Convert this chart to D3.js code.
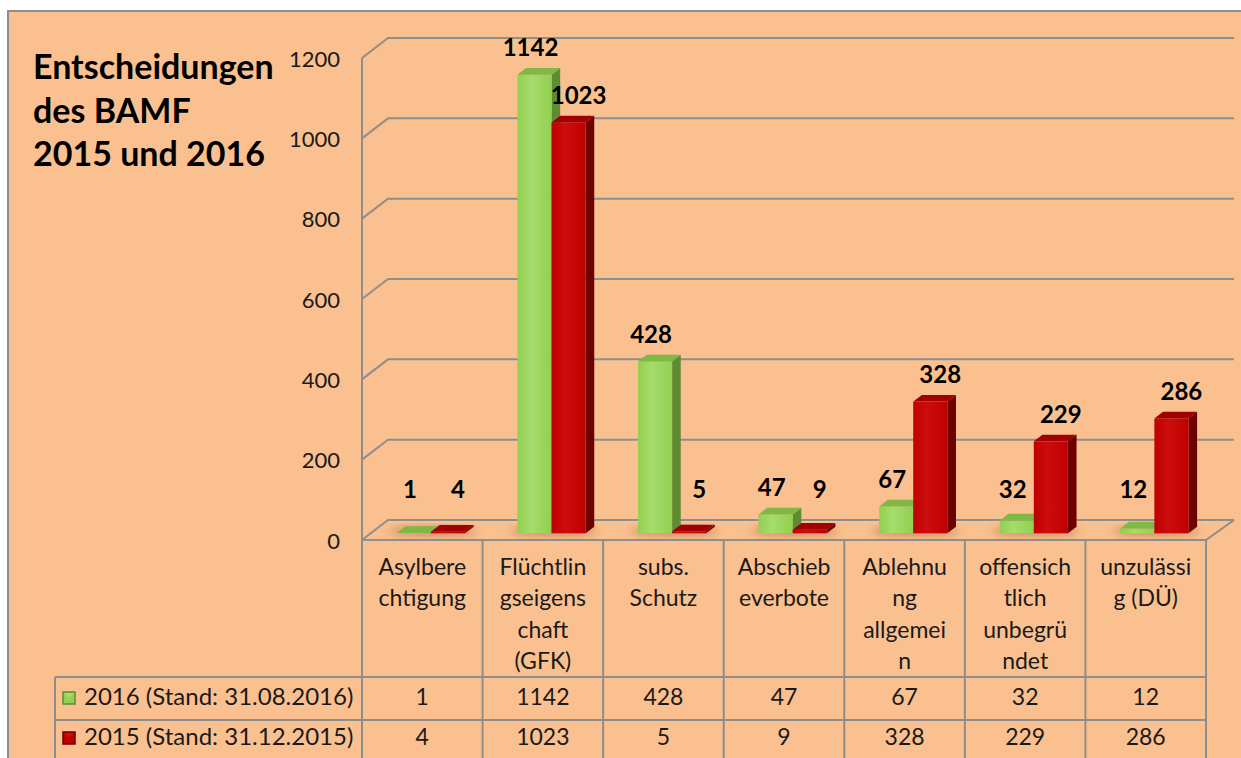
<!DOCTYPE html>
<html>
<head>
<meta charset="utf-8">
<script src="https://cdn.jsdelivr.net/npm/d3@7"></script>
<style>
  body { margin: 0; background: #fff; }
  text { font-family: Lato, "Noto Sans", sans-serif; }
</style>
</head>
<body>
<div id="chart"></div>
<script>
// Data
var categories = ["Asylberechtigung", "Flüchtlingseigenschaft (GFK)", "subs. Schutz", "Abschiebeverbote",
    "Ablehnung allgemein", "offensichtlich unbegründet", "unzulässig (DÜ)"];
var categoryLines = [["Asylbere", "chtigung"], ["Flüchtlin", "gseigens", "chaft", "(GFK)"], ["subs.", "Schutz"],
    ["Abschieb", "everbote"], ["Ablehnu", "ng", "allgemei", "n"], ["offensich", "tlich", "unbegrü", "ndet"],
    ["unzulässi", "g (DÜ)"]];
var values2016 = [1, 1142, 428, 47, 67, 32, 12];
var values2015 = [4, 1023, 5, 9, 328, 229, 286];
var seriesKeys = ["2016", "2015"];
var seriesLabels = ["2016 (Stand: 31.08.2016)", "2015 (Stand: 31.12.2015)"];
var yTicks = [0, 200, 400, 600, 800, 1000, 1200];
var titleLines = ["Entscheidungen", "des BAMF", "2015 und 2016"];

var W = 1241, H = 758;
var bg = "#fac090", gridCol = "#8e8e8e";
var colors = {
    "2016": {front: "#92d050", side: "#5f8c33", top: "#7fb844", light: "#a6dc6c"},
    "2015": {front: "#c00000", side: "#6e0000", top: "#a00000", light: "#cc0d0d"}
};

// plot geometry
var plotLeft = 362, plotRight = 1206, floorY = 540;
var depthX = 26, depthY = -20;   // full depth of the 3D box
var barF = 1 / 3, barB = 2 / 3;  // bar front/back as fraction of depth

var rows = categories.map(function (c, i) {
    return {cat: c, lines: categoryLines[i], "2016": values2016[i], "2015": values2015[i]};
});

var svg = d3.select("#chart").append("svg")
    .attr("width", W).attr("height", H);

var defs = svg.append("defs");
defs.append("filter").attr("id", "blur")
    .attr("x", "-50%").attr("y", "-50%").attr("width", "200%").attr("height", "200%")
    .append("feGaussianBlur").attr("stdDeviation", 4);
seriesKeys.forEach(function (k) {
    var g = defs.append("linearGradient").attr("id", "grad" + k)
        .attr("x1", 0).attr("x2", 1).attr("y1", 0).attr("y2", 0);
    g.append("stop").attr("offset", "0%").attr("stop-color", colors[k].front);
    g.append("stop").attr("offset", "40%").attr("stop-color", colors[k].light);
    g.append("stop").attr("offset", "100%").attr("stop-color", colors[k].front);
});

// chart area background
svg.append("rect")
    .attr("x", 8).attr("y", 11).attr("width", W + 20).attr("height", H + 20)
    .attr("fill", bg).attr("stroke", gridCol).attr("stroke-width", 2);

// Scales
var y = d3.scaleLinear().domain([0, 1200]).range([floorY, floorY - 482]);
var x = d3.scaleBand().domain(categories).range([plotLeft, plotRight]).padding(0);
var xSub = d3.scaleBand().domain(seriesKeys).range([0, x.bandwidth()])
    .paddingInner(0).paddingOuter(0.77);

// Walls: gridlines on back wall + left wall diagonals
var grid = svg.append("g").attr("stroke", gridCol).attr("stroke-width", 2).attr("fill", "none");
grid.selectAll("path.grid")
    .data(yTicks)
    .enter().append("path")
    .attr("class", "grid")
    .attr("d", function (d) {
        var yf = y(d);
        return "M" + plotLeft + "," + yf + "L" + (plotLeft + depthX) + "," + (yf + depthY) +
            "L" + (plotRight + depthX + 2) + "," + (yf + depthY);
    });
// left axis line
grid.append("line")
    .attr("x1", plotLeft).attr("x2", plotLeft)
    .attr("y1", y(1200)).attr("y2", floorY);
// floor front + right edge
grid.append("path")
    .attr("d", "M" + plotLeft + "," + floorY + "L" + plotRight + "," + floorY +
        "L" + (plotRight + depthX + 2) + "," + (floorY + depthY));

// Y tick labels
svg.append("g").selectAll("text")
    .data(yTicks)
    .enter().append("text")
    .attr("x", 340)
    .attr("y", function (d) { return y(d) + 3; })
    .attr("text-anchor", "end")
    .attr("dominant-baseline", "middle")
    .attr("font-size", 22)
    .attr("fill", "#1a1a1a")
    .text(function (d) { return d; });

// Title
svg.append("g").selectAll("text")
    .data(titleLines)
    .enter().append("text")
    .attr("x", 33)
    .attr("y", function (d, i) { return 79 + i * 43.5; })
    .attr("font-size", 34)
    .attr("font-weight", "bold")
    .attr("fill", "#000")
    .text(function (d) { return d; });

// Bars
var bw = xSub.bandwidth();
var fdx = depthX * barF, fdy = depthY * barF;
var bdx = depthX * (barB - barF), bdy = depthY * (barB - barF);

var groups = svg.selectAll("g.layer")
    .data(rows)
    .enter().append("g")
    .attr("class", "layer")
    .attr("transform", function (d) { return "translate(" + (x(d.cat) + fdx) + "," + fdy + ")"; });

// floor shadow
groups.append("ellipse")
    .attr("cx", x.bandwidth() / 2 + 2)
    .attr("cy", floorY - 2)
    .attr("rx", bw * 1.3)
    .attr("ry", 4)
    .attr("fill", "#a0602f")
    .attr("opacity", 0.6)
    .attr("filter", "url(#blur)");

var bars = groups.selectAll("g.bar")
    .data(function (d) {
        return seriesKeys.map(function (k) { return {key: k, value: d[k]}; });
    })
    .enter().append("g")
    .attr("class", "bar");

function bx(d) { return xSub(d.key); }

// side face
bars.append("path")
    .attr("fill", function (d) { return colors[d.key].side; })
    .attr("d", function (d) {
        var x0 = bx(d) + bw, yt = y(d.value), yb = floorY;
        return "M" + x0 + "," + yt + "L" + (x0 + bdx) + "," + (yt + bdy) +
            "L" + (x0 + bdx) + "," + (yb + bdy) + "L" + x0 + "," + yb + "Z";
    });
// front face
bars.append("rect")
    .attr("x", bx)
    .attr("width", bw)
    .attr("y", function (d) { return y(d.value); })
    .attr("height", function (d) { return floorY - y(d.value); })
    .attr("fill", function (d) { return "url(#grad" + d.key + ")"; });
// top face
bars.append("path")
    .attr("fill", function (d) { return colors[d.key].top; })
    .attr("d", function (d) {
        var x0 = bx(d), yt = y(d.value);
        return "M" + x0 + "," + yt + "L" + (x0 + bw) + "," + yt +
            "L" + (x0 + bw + bdx) + "," + (yt + bdy) + "L" + (x0 + bdx) + "," + (yt + bdy) + "Z";
    });

// data labels
bars.append("text")
    .attr("x", function (d) { return bx(d) + bw / 2 + (d.key === "2016" ? -4 : 10); })
    .attr("y", function (d) { return Math.min(y(d.value) + bdy - 25, 492) - fdy; })
    .attr("text-anchor", "middle")
    .attr("dominant-baseline", "middle")
    .attr("font-size", 24)
    .attr("font-weight", "bold")
    .attr("fill", "#000")
    .text(function (d) { return d.value; });

// Data table
var tableTop = floorY, headBottom = 677, rowH = 42, legendLeft = 55, tableBottom = H + 5;
var table = svg.append("g").attr("stroke", gridCol).attr("stroke-width", 2);
var colEdges = categories.map(function (c) { return x(c); }).concat([plotRight]);
table.selectAll("line.col")
    .data(colEdges)
    .enter().append("line")
    .attr("class", "col")
    .attr("x1", function (d) { return d; }).attr("x2", function (d) { return d; })
    .attr("y1", tableTop).attr("y2", tableBottom);
table.selectAll("line.row")
    .data([headBottom, headBottom + rowH + 1])
    .enter().append("line")
    .attr("class", "row")
    .attr("x1", legendLeft).attr("x2", plotRight)
    .attr("y1", function (d) { return d; }).attr("y2", function (d) { return d; });
table.append("line")
    .attr("x1", legendLeft).attr("x2", legendLeft)
    .attr("y1", headBottom).attr("y2", tableBottom);

// category header text
svg.append("g").selectAll("g")
    .data(rows)
    .enter().append("g")
    .selectAll("text")
    .data(function (d) {
        return d.lines.map(function (l) { return {cat: d.cat, line: l}; });
    })
    .enter().append("text")
    .attr("x", function (d) { return x(d.cat) + x.bandwidth() / 2; })
    .attr("y", function (d, i) { return 569 + i * 31.5; })
    .attr("text-anchor", "middle")
    .attr("dominant-baseline", "middle")
    .attr("font-size", 23)
    .attr("fill", "#1a1a1a")
    .text(function (d) { return d.line; });

// table rows: legend + values
var tRows = svg.selectAll("g.trow")
    .data(seriesKeys)
    .enter().append("g")
    .attr("class", "trow")
    .attr("transform", function (d, i) { return "translate(0," + (headBottom + rowH / 2 + i * (rowH - 2)) + ")"; });

tRows.append("rect")
    .attr("x", 63).attr("y", -6).attr("width", 12).attr("height", 12)
    .attr("fill", function (d) { return colors[d].front; })
    .attr("stroke", function (d) { return colors[d].side; })
    .attr("stroke-width", 1.5);
tRows.append("path")
    .attr("d", "M64,-5L69,0L74,-5Z")
    .attr("fill", function (d) { return colors[d].light; });

tRows.append("text")
    .attr("x", 84)
    .attr("y", 1)
    .attr("dominant-baseline", "middle")
    .attr("font-size", 24)
    .attr("fill", "#1a1a1a")
    .text(function (d, i) { return seriesLabels[i]; });

tRows.selectAll("text.val")
    .data(function (k) {
        return rows.map(function (r) { return {cat: r.cat, value: r[k]}; });
    })
    .enter().append("text")
    .attr("class", "val")
    .attr("x", function (d) { return x(d.cat) + x.bandwidth() / 2; })
    .attr("y", 1)
    .attr("text-anchor", "middle")
    .attr("dominant-baseline", "middle")
    .attr("font-size", 23)
    .attr("fill", "#1a1a1a")
    .text(function (d) { return d.value; });
</script>
</body>
</html>
